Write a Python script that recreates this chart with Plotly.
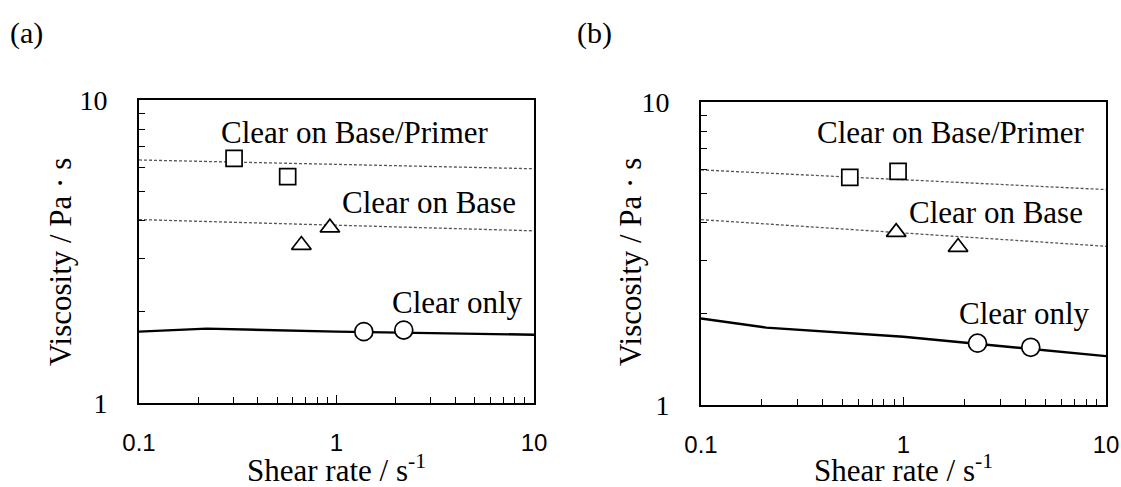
import math
import plotly.graph_objects as go

# ---- data: panel (a) ----
a_sq_x = [0.303, 0.566]
a_sq_y = [6.42, 5.59]
a_tri_x = [0.664, 0.926]
a_tri_y = [3.32, 3.79]
a_cir_x = [1.375, 2.19]
a_cir_y = [1.72, 1.74]
a_fit_top_x = [0.1, 10]
a_fit_top_y = [6.34, 5.93]
a_fit_mid_x = [0.1, 10]
a_fit_mid_y = [4.03, 3.70]
a_line_x = [0.1, 0.22, 1, 10]
a_line_y = [1.72, 1.76, 1.72, 1.68]

# ---- data: panel (b) ----
b_sq_x = [0.543, 0.94]
b_sq_y = [5.64, 5.90]
b_tri_x = [0.92, 1.86]
b_tri_y = [3.72, 3.32]
b_cir_x = [2.32, 4.25]
b_cir_y = [1.60, 1.55]
b_fit_top_x = [0.1, 10]
b_fit_top_y = [5.97, 5.14]
b_fit_mid_x = [0.1, 10]
b_fit_mid_y = [4.09, 3.34]
b_line_x = [0.1, 0.21, 1, 10]
b_line_y = [1.93, 1.80, 1.68, 1.45]

x_tickvals = [0.1, 1, 10]
x_ticktext = ["0.1", "1", "10"]
y_tickvals = [1, 10]
y_ticktext = ["1", "10"]
labels = ["Clear on Base/Primer", "Clear on Base", "Clear only"]
a_label_x = [0.26, 1.07, 1.92]
a_label_y = [7.81, 4.58, 2.14]
b_label_x = [0.373, 1.06, 1.87]
b_label_y = [7.95, 4.33, 2.01]

SERIF = "Liberation Serif"
SANS = "Liberation Sans"

fig = go.Figure()

def add_panel(xa, ya, top_x, top_y, mid_x, mid_y, lx, ly, sqx, sqy, trx, try_, cx, cy):
    dash_style = dict(color="#555555", width=1.3, dash="3px,2px")
    fig.add_trace(go.Scatter(x=top_x, y=top_y, mode="lines", line=dash_style, xaxis=xa, yaxis=ya, showlegend=False))
    fig.add_trace(go.Scatter(x=mid_x, y=mid_y, mode="lines", line=dash_style, xaxis=xa, yaxis=ya, showlegend=False))
    fig.add_trace(go.Scatter(x=lx, y=ly, mode="lines", line=dict(color="black", width=2.4), xaxis=xa, yaxis=ya, showlegend=False))
    mk_line = dict(color="black", width=1.7)
    fig.add_trace(go.Scatter(x=sqx, y=sqy, mode="markers", xaxis=xa, yaxis=ya, showlegend=False,
                             marker=dict(symbol="square", size=16, color="white", line=mk_line)))
    fig.add_trace(go.Scatter(x=trx, y=try_, mode="markers", xaxis=xa, yaxis=ya, showlegend=False,
                             marker=dict(symbol="triangle-up", size=17, color="white", line=mk_line)))
    fig.add_trace(go.Scatter(x=cx, y=cy, mode="markers", xaxis=xa, yaxis=ya, showlegend=False,
                             marker=dict(symbol="circle", size=18, color="white", line=mk_line)))

add_panel("x", "y", a_fit_top_x, a_fit_top_y, a_fit_mid_x, a_fit_mid_y, a_line_x, a_line_y,
          a_sq_x, a_sq_y, a_tri_x, a_tri_y, a_cir_x, a_cir_y)
add_panel("x2", "y2", b_fit_top_x, b_fit_top_y, b_fit_mid_x, b_fit_mid_y, b_line_x, b_line_y,
          b_sq_x, b_sq_y, b_tri_x, b_tri_y, b_cir_x, b_cir_y)

minor_x = [0.2, 0.3, 0.4, 0.5, 0.6, 0.7, 0.8, 0.9, 2, 3, 4, 5, 6, 7, 8, 9]
minor_y = [2, 3, 4, 5, 6, 7, 8, 9]

def xaxis_cfg(domain):
    return dict(domain=domain, type="log", range=[-1, 1], showline=True, linecolor="black", linewidth=2,
                mirror=True, showgrid=False, zeroline=False, ticks="inside", ticklen=8, tickwidth=1.3,
                tickcolor="black", tickvals=x_tickvals, ticktext=x_ticktext, automargin=False,
                tickfont=dict(family=SANS, size=24, color="black"), ticklabelstandoff=17,
                minor=dict(tickvals=minor_x, ticks="inside", ticklen=6, tickwidth=1.1, tickcolor="black", showgrid=False))

def yaxis_cfg(domain, anchor):
    return dict(domain=domain, anchor=anchor, type="log", range=[0, 1], showline=True, linecolor="black", linewidth=2,
                mirror=True, showgrid=False, zeroline=False, ticks="inside", ticklen=8, tickwidth=1.3,
                tickcolor="black", tickvals=y_tickvals, ticktext=y_ticktext, automargin=False,
                tickfont=dict(family=SERIF, size=28, color="black"), ticklabelstandoff=24,
                minor=dict(tickvals=minor_y, ticks="inside", ticklen=6, tickwidth=1.1, tickcolor="black", showgrid=False))

W, H = 1121, 487
xa = xaxis_cfg([139 / W, 534 / W]); xa["anchor"] = "y"
xb = xaxis_cfg([701 / W, 1106 / W]); xb["anchor"] = "y2"
ya = yaxis_cfg([(H - 403) / H, (H - 100) / H], "x")
yb = yaxis_cfg([(H - 405) / H, (H - 102) / H], "x2")

annotations = []
for xr, lab_x, lab_y in [("x", a_label_x, a_label_y), ("x2", b_label_x, b_label_y)]:
    yr = "y" if xr == "x" else "y2"
    for t, lx_, ly_ in zip(labels, lab_x, lab_y):
        annotations.append(dict(x=math.log10(lx_), y=math.log10(ly_), xref=xr, yref=yr, text=t, showarrow=False,
                                xanchor="left", yanchor="middle", font=dict(family=SERIF, size=31, color="black"),
                                xshift=-2))
# Axis titles and panel labels (paper coords)
for cx_ in [(139 + 534) / 2, (701 + 1106) / 2]:
    annotations.append(dict(x=cx_ / W, y=(H - 468) / H, xref="paper", yref="paper", text="Shear rate / s<sup>-1</sup>",
                            showarrow=False, xanchor="center", yanchor="middle",
                            font=dict(family=SERIF, size=31, color="black")))
for tx in [60, 630]:
    annotations.append(dict(x=tx / W, y=(H - 262) / H, xref="paper", yref="paper", text="Viscosity / Pa · s",
                            textangle=-90, showarrow=False, xanchor="center", yanchor="middle",
                            font=dict(family=SERIF, size=31, color="black")))
for t, px in [("(a)", 8), ("(b)", 575)]:
    annotations.append(dict(x=px / W, y=(H - 33) / H, xref="paper", yref="paper", text=t, showarrow=False,
                            xanchor="left", yanchor="middle", font=dict(family=SERIF, size=30, color="black")))

fig.update_layout(width=W, height=H, margin=dict(l=0, r=0, t=0, b=0, pad=0, autoexpand=False),
                  paper_bgcolor="white", plot_bgcolor="white",
                  xaxis=xa, xaxis2=xb, yaxis=ya, yaxis2=yb, annotations=annotations, showlegend=False)

fig.write_html("out.html")
